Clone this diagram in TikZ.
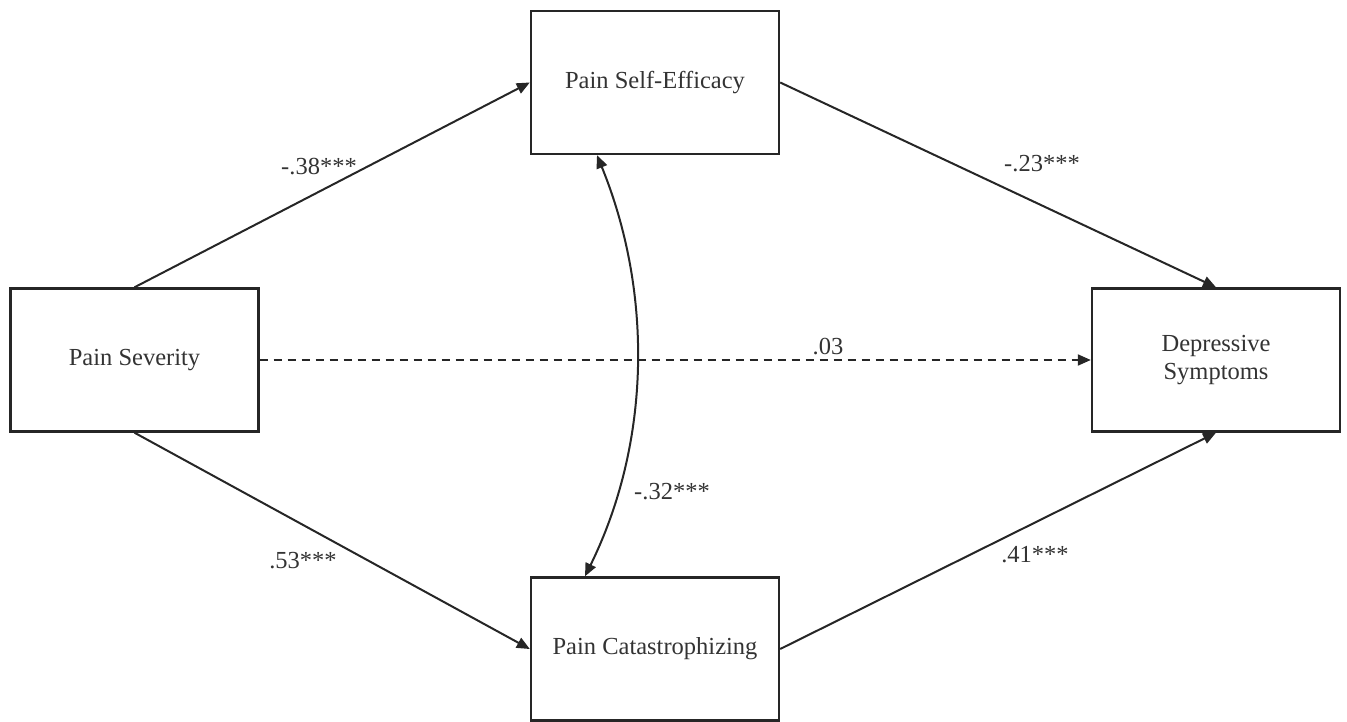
\documentclass[tikz,border=0pt]{standalone}
\usepackage{fontspec}
\setmainfont{Liberation Serif}
\usetikzlibrary{arrows.meta,positioning}

\begin{document}
\begin{tikzpicture}[
    x=1pt, y=-1pt,
    var/.style={rectangle, draw=black!85, line width=2.4pt,
                minimum width=248pt, minimum height=143pt,
                align=center, font=\fontsize{24.5}{28}\selectfont, text=black!80},
    path/.style={-{Triangle[length=13pt,width=11pt]}, line width=2pt, black!85},
    corr/.style={{Triangle[length=13pt,width=11pt]}-{Triangle[length=13pt,width=11pt]}, line width=2pt, black!85},
    coef/.style={font=\fontsize{24.5}{28}\selectfont, text=black!80}
]
\useasboundingbox (0,0) rectangle (1347,722);

% Variables
\node[var] (Sev) at (134.5,360) {Pain Severity};
\node[var] (Eff) at (655,82.5) {Pain Self-Efficacy};
\node[var] (Cat) at (655,649) {Pain Catastrophizing};
\node[var] (Dep) at (1216,360) {Depressive\\Symptoms};

% Paths
\draw[path] (Sev.north) -- (Eff.west);
\draw[path] (Eff.east) -- (Dep.north);
\draw[path] (Sev.south) -- (Cat.west);
\draw[path] (Cat.east) -- (Dep.south);
\draw[path, dash pattern=on 8pt off 6pt] (Sev.east) -- (Dep.west);

% Covariance
\draw[corr] ([xshift=-58pt]Eff.south) .. controls (652,290) and (652,440) .. ([xshift=-70pt]Cat.north);

% Coefficients
\node[coef] (c1) at (319,167) {-.38***};
\node[coef] (c2) at (1042,164) {-.23***};
\node[coef] (c3) at (828,347) {.03};
\node[coef] (c4) at (672,492) {-.32***};
\node[coef] (c5) at (303,561) {.53***};
\node[coef] (c6) at (1035,555) {.41***};

\end{tikzpicture}
\end{document}
